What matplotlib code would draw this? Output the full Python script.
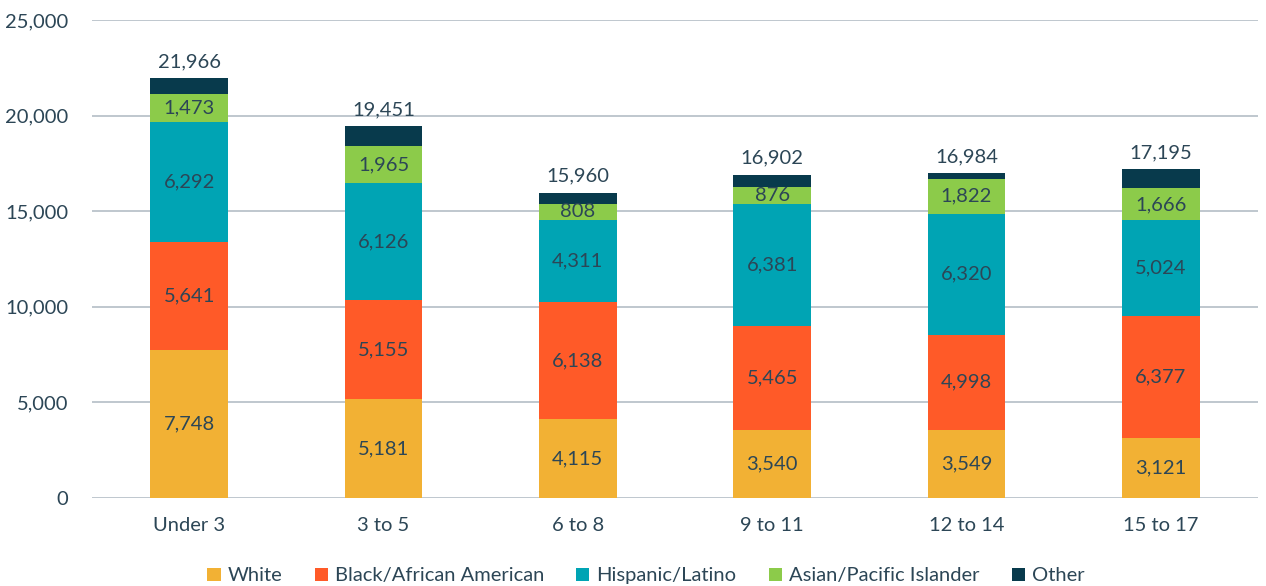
import numpy as np
import matplotlib
matplotlib.use("Agg")
import matplotlib.pyplot as plt

plt.rcParams['font.family'] = ['Lato', 'DejaVu Sans']

categories = ["Under 3", "3 to 5", "6 to 8", "9 to 11", "12 to 14", "15 to 17"]
white = [7748, 5181, 4115, 3540, 3549, 3121]
black = [5641, 5155, 6138, 5465, 4998, 6377]
hispanic = [6292, 6126, 4311, 6381, 6320, 5024]
asian = [1473, 1965, 808, 876, 1822, 1666]
other = [812, 1024, 588, 640, 295, 1007]
totals = [21966, 19451, 15960, 16902, 16984, 17195]

series = [
    ("White", white, "#F2B134"),
    ("Black/African American", black, "#FF5A28"),
    ("Hispanic/Latino", hispanic, "#00A4B4"),
    ("Asian/Pacific Islander", asian, "#8CCB4A"),
    ("Other", other, "#083A4C"),
]
text_color = "#2C4656"
grid_color = "#B4BEC6"
fs = 14.5

fig = plt.figure(figsize=(12.66, 5.86), dpi=100)
ax = fig.add_axes([0.0727, 0.1502, 0.9210, 0.8157])

x = np.arange(len(categories))
bottom = np.zeros(len(categories))
for name, vals, color in series:
    vals = np.array(vals)
    ax.bar(x, vals, 0.4, bottom=bottom, color=color, label=name, zorder=3)
    if name != "Other":
        for xi, b, v in zip(x, bottom, vals):
            ax.text(xi, b + v / 2, f"{v:,}", ha="center", va="center",
                    fontsize=fs, color=text_color, zorder=4)
    bottom += vals

for xi, t in zip(x, totals):
    ax.text(xi, t + 420, f"{t:,}", ha="center", va="bottom",
            fontsize=fs, color=text_color)

ax.set_ylim(0, 25000)
ax.set_xlim(-0.5, len(categories) - 0.5)
ax.set_yticks(np.arange(0, 25001, 5000))
ax.set_yticklabels([f"{v:,}" for v in range(0, 25001, 5000)])
ax.set_xticks(x)
ax.set_xticklabels(categories)
ax.tick_params(axis="both", length=0, labelsize=fs, labelcolor=text_color)
ax.tick_params(axis="y", pad=17)
ax.tick_params(axis="x", pad=14)
ax.grid(axis="y", color=grid_color, linewidth=1.2, zorder=0)
for s in ax.spines.values():
    s.set_visible(False)

# legend centred under the figure, slightly left of the axes centre
ax.legend(loc="center", bbox_to_anchor=(0.475, -0.163),
          ncol=5, frameon=False, fontsize=fs, labelcolor=text_color,
          handlelength=0.65, handleheight=0.65, handletextpad=0.35,
          columnspacing=1.6)

fig.savefig("out.png", dpi=100)
